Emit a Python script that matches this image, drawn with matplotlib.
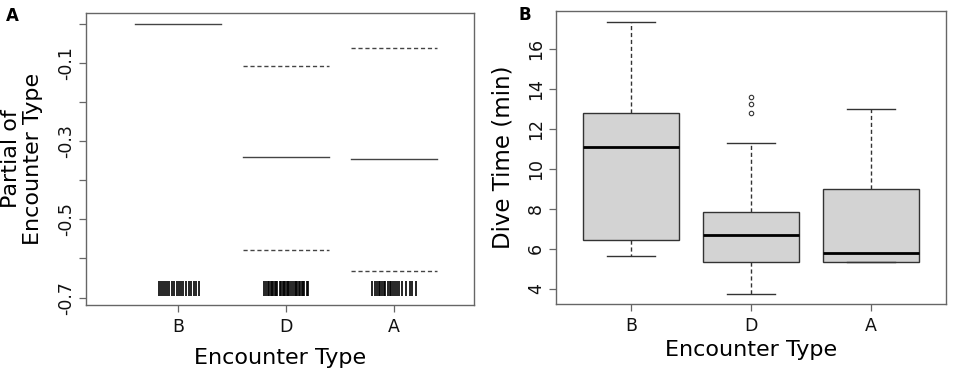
import numpy as np
import matplotlib.pyplot as plt

# Panel A: partial effect of encounter type (fit and +/- 2 SE)
categorias = ['B', 'D', 'A']
parcial_fit = [0.0, -0.342, -0.347]
parcial_sup = [None, -0.108, -0.062]
parcial_inf = [None, -0.578, -0.631]

# rug positions (x, jittered around each category)
rug_B = [0.82, 0.84, 0.86, 0.88, 0.90, 0.92, 0.94, 0.96, 0.99, 1.01, 1.03,
         1.05, 1.07, 1.10, 1.12, 1.15, 1.17, 1.19]
rug_D = [1.80, 1.81, 1.83, 1.84, 1.86, 1.87, 1.88, 1.90, 1.91, 1.92, 1.94,
         1.95, 1.97, 1.98, 1.99, 2.01, 2.02, 2.03, 2.05, 2.06, 2.08, 2.09,
         2.10, 2.12, 2.13, 2.15, 2.16, 2.17, 2.19, 2.20]
rug_A = [2.80, 2.82, 2.84, 2.86, 2.87, 2.89, 2.91, 2.92, 2.94, 2.96, 2.97,
         2.99, 3.01, 3.03, 3.05, 3.07, 3.11, 3.15, 3.17, 3.20]

# Panel B: dive time boxplot stats
tempo_med = [11.10, 6.67, 5.77]
tempo_q1 = [6.42, 5.32, 5.32]
tempo_q3 = [12.78, 7.83, 8.99]
tempo_wlo = [5.65, 3.75, 5.32]
tempo_whi = [17.34, 11.31, 13.01]
outliers_D = [12.81, 13.26, 13.61]

cinza = '#444444'
borda = '#666666'

fig = plt.figure(figsize=(9.57, 3.69), dpi=100)

# ---------- painel A ----------
ax1 = fig.add_axes([0.0899, 0.1734, 0.4054, 0.7914])
pos = np.arange(1, len(categorias) + 1)
for i, p in enumerate(pos):
    ax1.plot([p - 0.4, p + 0.4], [parcial_fit[i]] * 2, color=cinza, lw=1.0)
    if parcial_sup[i] is not None:
        ax1.plot([p - 0.4, p + 0.4], [parcial_sup[i]] * 2, color=cinza,
                 lw=1.0, dashes=(3, 2))
        ax1.plot([p - 0.4, p + 0.4], [parcial_inf[i]] * 2, color=cinza,
                 lw=1.0, dashes=(3, 2))
for r in [rug_B, rug_D, rug_A]:
    ax1.vlines(r, -0.695, -0.657, color='black', lw=1.2)

ax1.set_xlim(0.148, 3.74)
ax1.set_ylim(-0.719, 0.027)
ax1.set_xticks(pos)
ax1.set_xticklabels(categorias)
ax1.set_yticks([0.0, -0.1, -0.2, -0.3, -0.4, -0.5, -0.6, -0.7])
ax1.set_yticklabels(['', '-0.1', '', '-0.3', '', '-0.5', '', '-0.7'],
                    rotation=90, va='center')
ax1.set_xlabel('Encounter Type', fontsize=16, labelpad=9)
ax1.set_ylabel('Partial of\nEncounter Type', fontsize=16, labelpad=10,
               linespacing=1.15)
ax1.text(-0.206, 0.99, 'A', transform=ax1.transAxes, fontsize=12,
         fontweight='bold', ha='left', va='center')

# ---------- painel B ----------
ax2 = fig.add_axes([0.581, 0.176, 0.4075, 0.794])
stats = []
for i, c in enumerate(categorias):
    stats.append({'label': c, 'med': tempo_med[i], 'q1': tempo_q1[i],
                  'q3': tempo_q3[i], 'whislo': tempo_wlo[i],
                  'whishi': tempo_whi[i],
                  'fliers': outliers_D if c == 'D' else []})
ax2.bxp(stats, positions=pos, widths=0.8, patch_artist=True,
        boxprops=dict(facecolor='#D3D3D3', edgecolor='#333333', lw=1.0),
        medianprops=dict(color='black', lw=2.0),
        whiskerprops=dict(color='#333333', lw=1.0, dashes=(3, 2)),
        capprops=dict(color='#333333', lw=1.0), capwidths=0.4,
        flierprops=dict(marker='o', markersize=3.2, markerfacecolor='none',
                        markeredgecolor='#333333', markeredgewidth=0.8))
ax2.set_xlim(0.375, 3.625)
ax2.set_ylim(3.23, 17.9)
ax2.set_yticks([4, 6, 8, 10, 12, 14, 16])
ax2.set_yticklabels(['4', '6', '8', '10', '12', '14', '16'], rotation=90,
                    va='center')
ax2.set_xlabel('Encounter Type', fontsize=16, labelpad=4)
ax2.set_ylabel('Dive Time (min)', fontsize=16.5, labelpad=9)
ax2.text(-0.095, 0.985, 'B', transform=ax2.transAxes, fontsize=12,
         fontweight='bold', ha='left', va='center')

for ax in [ax1, ax2]:
    for s in ax.spines.values():
        s.set_color(borda)
        s.set_linewidth(1.0)
    ax.tick_params(axis='both', length=5, width=0.9, color=borda,
                   labelsize=12.5, labelcolor='#111111')
    ax.tick_params(axis='x', pad=4)
    ax.tick_params(axis='y', pad=3)

fig.savefig('out.png', dpi=100)
